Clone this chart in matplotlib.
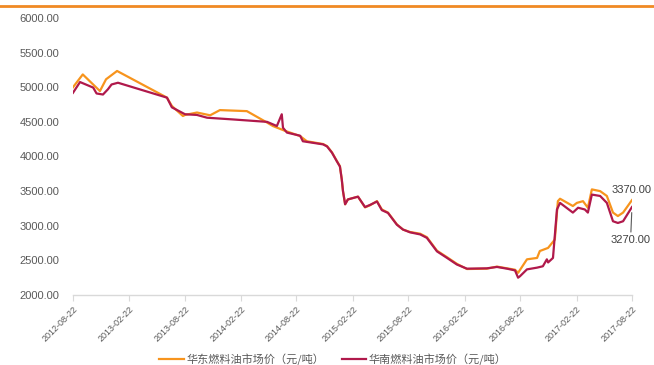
import matplotlib
matplotlib.use("Agg")
import matplotlib.pyplot as plt
from matplotlib.lines import Line2D
import pandas as pd

plt.rcParams['font.family'] = ['Liberation Sans', 'Noto Sans CJK SC', 'DejaVu Sans']

# 华东燃料油市场价（元/吨）
east_dates = ["2012-08-22", "2012-09-23", "2012-11-18", "2012-12-08", "2013-01-13",
              "2013-06-25", "2013-07-11", "2013-08-16", "2013-08-23", "2013-10-01",
              "2013-11-13", "2013-12-15", "2014-03-13", "2014-05-18", "2014-06-06",
              "2014-07-16", "2014-09-03", "2014-09-25", "2014-11-17", "2014-11-30",
              "2014-12-16", "2015-01-01", "2015-01-11", "2015-01-17", "2015-01-21",
              "2015-01-28", "2015-02-06", "2015-03-11", "2015-04-03", "2015-04-19",
              "2015-05-12", "2015-05-28", "2015-06-17", "2015-07-16", "2015-08-05",
              "2015-08-28", "2015-09-30", "2015-10-22", "2015-11-24", "2015-12-27",
              "2016-01-28", "2016-03-01", "2016-05-05", "2016-06-07", "2016-07-10",
              "2016-08-05", "2016-08-15", "2016-09-13", "2016-10-16", "2016-10-25",
              "2016-11-21", "2016-12-13", "2016-12-23", "2016-12-30", "2017-02-10",
              "2017-02-23", "2017-03-15", "2017-03-31", "2017-04-13", "2017-05-10",
              "2017-06-01", "2017-06-21", "2017-07-07", "2017-07-24", "2017-08-22"]
east_price = [5000, 5185, 4945, 5115, 5235,
              4850, 4730, 4585, 4600, 4635,
              4595, 4670, 4655, 4490, 4440,
              4370, 4295, 4220, 4180, 4150,
              4060, 3935, 3860, 3670, 3500,
              3310, 3380, 3420, 3265, 3295,
              3355, 3235, 3190, 3020, 2945,
              2910, 2885, 2835, 2640, 2545,
              2450, 2375, 2380, 2410, 2385,
              2365, 2320, 2515, 2535, 2635,
              2680, 2800, 3355, 3390, 3285,
              3330, 3355, 3260, 3525, 3500,
              3430, 3190, 3140, 3190, 3370]

# 华南燃料油市场价（元/吨）
south_dates = ["2012-08-22", "2012-09-14", "2012-10-27", "2012-11-07", "2012-11-28",
               "2012-12-14", "2012-12-26", "2013-01-16", "2013-06-25", "2013-07-11",
               "2013-08-23", "2013-10-01", "2013-11-03", "2014-01-27", "2014-05-18",
               "2014-06-19", "2014-07-05", "2014-07-09", "2014-07-22", "2014-09-03",
               "2014-09-12", "2014-11-17", "2014-11-30", "2014-12-16", "2015-01-01",
               "2015-01-11", "2015-01-17", "2015-01-21", "2015-01-28", "2015-02-06",
               "2015-03-11", "2015-04-03", "2015-04-19", "2015-05-12", "2015-05-28",
               "2015-06-17", "2015-07-16", "2015-08-05", "2015-08-28", "2015-09-30",
               "2015-10-22", "2015-11-24", "2015-12-27", "2016-01-28", "2016-03-01",
               "2016-05-05", "2016-06-07", "2016-07-10", "2016-08-05", "2016-08-15",
               "2016-08-21", "2016-09-13", "2016-10-16", "2016-11-04", "2016-11-17",
               "2016-11-21", "2016-12-07", "2016-12-20", "2016-12-30", "2017-02-10",
               "2017-02-27", "2017-03-21", "2017-03-31", "2017-04-13", "2017-05-10",
               "2017-06-01", "2017-06-21", "2017-07-07", "2017-07-24", "2017-08-22"]
south_price = [4920, 5075, 4995, 4910, 4895,
               4970, 5040, 5065, 4850, 4710,
               4610, 4600, 4560, 4535, 4500,
               4440, 4610, 4415, 4345, 4300,
               4220, 4175, 4145, 4055, 3930,
               3855, 3670, 3500, 3310, 3380,
               3420, 3270, 3300, 3350, 3225,
               3185, 3015, 2945, 2905, 2875,
               2825, 2630, 2535, 2440, 2380,
               2385, 2405, 2380, 2355, 2250,
               2270, 2370, 2395, 2415, 2515,
               2470, 2535, 3235, 3330, 3190,
               3260, 3235, 3190, 3450, 3430,
               3330, 3065, 3040, 3065, 3270]

tick_labels = ["2012-08-22", "2013-02-22", "2013-08-22", "2014-02-22", "2014-08-22",
               "2015-02-22", "2015-08-22", "2016-02-22", "2016-08-22", "2017-02-22",
               "2017-08-22"]
y_ticks = [2000, 2500, 3000, 3500, 4000, 4500, 5000, 5500, 6000]

east_name = "华东燃料油市场价（元/吨）"
south_name = "华南燃料油市场价（元/吨）"
orange = "#F7941D"
crimson = "#B0194B"
grey_text = "#595959"

fig = plt.figure(figsize=(6.54, 3.65), dpi=100)
ax = fig.add_axes([0.1116, 0.1918, 0.8547, 0.7589])

ed = pd.to_datetime(east_dates)
sd = pd.to_datetime(south_dates)
ax.plot(ed, east_price, color=orange, lw=1.6, label=east_name, zorder=2)
ax.plot(sd, south_price, color=crimson, lw=1.6, label=south_name, zorder=3)

tick_dates = pd.to_datetime(tick_labels)
ax.set_xlim(tick_dates[0], tick_dates[-1])
ax.set_xticks(tick_dates)
ax.set_xticklabels(tick_labels, rotation=45, ha="right", rotation_mode="anchor",
                   fontsize=6.5, color=grey_text)
ax.set_ylim(2000, 6000)
ax.set_yticks(y_ticks)
ax.set_yticklabels([f"{v:.2f}" for v in y_ticks], fontsize=8, color=grey_text)

for side in ("top", "right", "left"):
    ax.spines[side].set_visible(False)
ax.spines["bottom"].set_color("#D9D9D9")
ax.spines["bottom"].set_linewidth(1.0)
ax.tick_params(axis="y", length=0, pad=10)
ax.tick_params(axis="x", length=4, color="#D9D9D9", pad=3)

# end-of-series value labels
last_e, last_s = east_price[-1], south_price[-1]
ax.annotate(f"{last_e:.2f}", xy=(ed[-1], last_e), xytext=(0, 4),
            textcoords="offset points", ha="center", va="bottom",
            fontsize=8, color="#404040", annotation_clip=False)
ax.annotate(f"{last_s:.2f}", xy=(sd[-1], last_s), xytext=(-1, -20),
            textcoords="offset points", ha="center", va="top",
            fontsize=8, color="#404040", annotation_clip=False,
            arrowprops=dict(arrowstyle="-", color="#595959", lw=0.8,
                            shrinkA=0, shrinkB=4))

leg = ax.legend(loc="upper center", bbox_to_anchor=(0.465, -0.175), ncol=2,
                frameon=False, handlelength=2.2, handletextpad=0.2,
                columnspacing=1.6,
                prop={'family': ['Noto Sans CJK SC', 'DejaVu Sans'], 'size': 8})
for t in leg.get_texts():
    t.set_color(grey_text)

# accent rule across the top of the page
fig.add_artist(Line2D([0, 1], [1 - 5.5 / 365, 1 - 5.5 / 365], color="#F08A24",
                      lw=2.0, transform=fig.transFigure))

fig.savefig("out.png", dpi=100)
